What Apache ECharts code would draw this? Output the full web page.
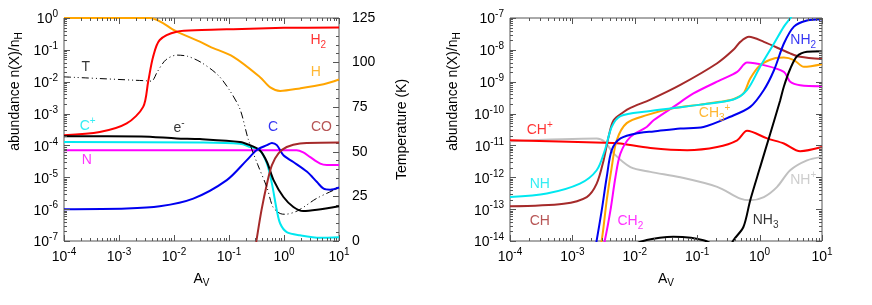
<!DOCTYPE html>
<html><head><meta charset="utf-8">
<script src="https://cdn.jsdelivr.net/npm/echarts@6/dist/echarts.min.js"></script>
<style>html,body{margin:0;padding:0;background:#fff}#c{width:872px;height:305px}</style>
</head><body><div id="c"></div><script>
// ---------- Left panel: abundances (A_V, n(X)/n_H) ----------
const avH2 = [1e-4, 4.47e-4, 1.38e-3, 2.75e-3, 3.39e-3, 4.17e-3, 5.5e-3, 1.12e-2, 3.16e-2, 0.12, 1, 10];
const abH2 = [2.09e-4, 2.63e-4, 4.9e-4, 1.62e-3, 1e-2, 6.03e-2, 0.204, 0.372, 0.417, 0.447, 0.49, 0.501];
const avH = [1e-4, 3.63e-3, 1.12e-2, 2.95e-2, 4.47e-2, 0.12, 0.363, 0.562, 0.851, 1.95, 5.25, 10];
const abH = [1, 1, 0.372, 0.182, 0.126, 0.0603, 0.0141, 6.61e-3, 5.13e-3, 6.17e-3, 8.32e-3, 1.17e-2];
const avCp = [1e-4, 3.16e-2, 0.158, 0.245, 0.363, 0.49, 0.603, 0.741, 0.851, 1.12, 1.95, 4.57, 10];
const abCp = [1.29e-4, 1.23e-4, 1.12e-4, 8.91e-5, 7.08e-5, 2.69e-5, 6.31e-6, 9.12e-7, 3.55e-7, 1.91e-7, 1.51e-7, 1.26e-7, 1.32e-7];
const avE = [1e-4, 2.51e-3, 1.12e-2, 2.95e-2, 0.158, 0.24, 0.363, 0.49, 0.646, 0.977, 1.48, 2.24, 3.98, 10];
const abE = [1.95e-4, 1.91e-4, 1.66e-4, 1.58e-4, 1.29e-4, 1.02e-4, 7.08e-5, 3.02e-5, 8.13e-6, 2.4e-6, 1.17e-6, 8.71e-7, 9.55e-7, 1.23e-6];
const avN = [1e-4, 1.7, 2.24, 2.95, 4.57, 6.03, 10];
const abN = [7.08e-5, 7.08e-5, 6.03e-5, 4.37e-5, 2.69e-5, 2.45e-5, 2.45e-5];
const avC = [1e-4, 1.38e-3, 5.5e-3, 2.24e-2, 9.12e-2, 0.209, 0.316, 0.49, 0.603, 0.741, 0.977, 1.48, 2.63, 3.98, 5.25, 6.92, 10];
const abC = [1e-6, 1.05e-6, 1.23e-6, 2.14e-6, 8.13e-6, 3.39e-5, 7.08e-5, 1.02e-4, 1.2e-4, 1.02e-4, 4.9e-5, 3.02e-5, 1.48e-5, 7.08e-6, 4.37e-6, 4.07e-6, 4.79e-6];
const avCO = [0.302, 0.316, 0.389, 0.49, 0.603, 0.794, 1.12, 1.95, 10];
const abCO = [6.31e-8, 1.05e-7, 9.12e-7, 6.31e-6, 2.4e-5, 5.62e-5, 8.91e-5, 1.15e-4, 1.23e-4];
// Temperature (K), right axis
const avT = [1e-4, 3.16e-3, 3.89e-3, 5.01e-3, 7.08e-3, 1.12e-2, 1.78e-2, 3.16e-2, 6.31e-2, 0.1, 0.158, 0.224, 0.331, 0.49, 0.631, 0.851, 1.05, 1.78, 3.98, 10];
const tempK = [92, 89.8, 89.6, 95, 101.5, 104.2, 103.5, 100, 93, 85, 74, 57, 43, 30, 19, 15.4, 15, 17, 24, 29.8];

// ---------- Right panel ----------
const avCHp = [1e-4, 4.57e-3, 5.89e-3, 1.78e-2, 6.92e-2, 0.209, 0.437, 0.631, 1.32, 2.45, 4.47, 10];
const abCHp = [1.45e-11, 1.2e-11, 1.15e-11, 8.32e-12, 7.08e-12, 8.91e-12, 1.45e-11, 2.88e-11, 1.66e-11, 1.15e-11, 6.61e-12, 8.91e-12];
const avNHp = [1e-4, 2.45e-3, 3.31e-3, 4.57e-3, 8.51e-3, 1.78e-2, 5.37e-2, 0.209, 0.49, 0.708, 1.17, 1.91, 3.09, 5.75, 10];
const abNHp = [1.35e-11, 1.66e-11, 1.29e-11, 5.62e-12, 2.09e-12, 1.48e-12, 1e-12, 5.01e-13, 2.14e-13, 1.91e-13, 2.4e-13, 5.01e-13, 1.66e-12, 3.39e-12, 4.37e-12];
const avNH = [1e-4, 3.89e-4, 1.32e-3, 2.45e-3, 3.31e-3, 4.27e-3, 5.89e-3, 1.55e-2, 5.37e-2, 0.112, 0.38, 0.631, 1.02, 1.7, 2.45, 3.09, 3.98];
const abNH = [2.4e-13, 3.09e-13, 6.31e-13, 1.66e-12, 7.08e-12, 3.8e-11, 8.32e-11, 1.17e-10, 1.58e-10, 1.91e-10, 2.75e-10, 5.5e-10, 2.95e-9, 1.58e-8, 5.37e-8, 9.77e-8, 2e-7];
const avCH = [1e-4, 7.24e-4, 1.7e-3, 2.45e-3, 3.16e-3, 3.8e-3, 4.57e-3, 6.61e-3, 8.51e-3, 1.78e-2, 5.37e-2, 0.209, 0.38, 0.49, 0.676, 1.17, 3.09, 4.47, 10];
const abCH = [1.23e-13, 1.48e-13, 2.4e-13, 6.31e-13, 3.39e-12, 1.86e-11, 6.17e-11, 1.12e-10, 1.51e-10, 2.75e-10, 7.94e-10, 3.8e-9, 1e-8, 1.78e-8, 2.57e-8, 1.78e-8, 7.76e-9, 6.03e-9, 5.13e-9];
const avCH3p = [2.51e-3, 2.95e-3, 3.55e-3, 4.27e-3, 5.13e-3, 7.41e-3, 1.55e-2, 3.72e-2, 0.112, 0.234, 0.38, 0.55, 0.708, 1.02, 1.7, 2.45, 3.55, 5.13, 10];
const abCH3p = [3.16e-15, 1.05e-14, 1.91e-13, 2.09e-12, 1.45e-11, 5.01e-11, 8.91e-11, 1.41e-10, 1.91e-10, 2.34e-10, 2.82e-10, 4.27e-10, 1.26e-9, 3.31e-9, 5.37e-9, 5.75e-9, 4.79e-9, 2.95e-9, 3.55e-9];
const avCH2 = [2.82e-3, 3.31e-3, 4.07e-3, 4.9e-3, 5.89e-3, 8.51e-3, 1.55e-2, 2e-2, 4.17e-2, 8.71e-2, 0.234, 0.437, 0.631, 1.17, 2.45, 3.09, 4.47, 10];
const abCH2 = [3.16e-15, 1.05e-14, 9.12e-14, 1.02e-12, 5.62e-12, 1.86e-11, 3.8e-11, 6.17e-11, 1.62e-10, 4.27e-10, 1.12e-9, 2.04e-9, 3.98e-9, 3.31e-9, 2.04e-9, 1e-9, 7.76e-10, 7.24e-10];
const avNH2 = [2.19e-3, 2.45e-3, 2.95e-3, 3.55e-3, 4.27e-3, 5.89e-3, 1.23e-2, 2e-2, 5.37e-2, 0.126, 0.339, 0.708, 1.17, 1.7, 2.45, 3.55, 5.75, 10];
const abNH2 = [3.16e-15, 1.05e-14, 9.12e-14, 1.02e-12, 7.08e-12, 1.66e-11, 2.51e-11, 2.75e-11, 3.39e-11, 3.8e-11, 7.94e-11, 1.62e-10, 5.5e-10, 2.29e-9, 1.58e-8, 5.37e-8, 8.32e-8, 9.12e-8];
const avNH3a = [1.12e-2, 1.55e-2, 2.51e-2, 4.17e-2, 7.94e-2, 0.126, 0.158];
const abNH3a = [8.91e-15, 1.07e-14, 1.26e-14, 1.35e-14, 1.26e-14, 1.05e-14, 8.91e-15];
const avNH3b = [0.316, 0.38, 0.55, 0.708, 1.02, 1.48, 2.14, 2.45, 3.09, 3.98, 5.75, 10];
const abNH3b = [5.01e-15, 1.05e-14, 2.75e-14, 1.91e-13, 2.09e-12, 2.34e-11, 2.63e-10, 7.08e-10, 2.51e-9, 6.31e-9, 8.71e-9, 9.12e-9];

// tick values
const xDecades = [1e-4, 1e-3, 1e-2, 1e-1, 1, 10];
const yDecadesL = [1e-7, 1e-6, 1e-5, 1e-4, 1e-3, 1e-2, 1e-1, 1];
const yDecadesR = [1e-14, 1e-13, 1e-12, 1e-11, 1e-10, 1e-9, 1e-8, 1e-7];

const FONT = 'Liberation Sans';
const COL = {red:'#ff0000', orange:'#ffa500', cyan:'#00e8f0', blue:'#0000f0', magenta:'#ff00ff', brown:'#a52a2a', black:'#000000', gray:'#c0c0c0'};

function zip(a, b) { return a.map((v, i) => [v, b[i]]); }
function line(name, xs, ys, color, xi, yi, extra) {
  return Object.assign({
    name, type: 'line', xAxisIndex: xi, yAxisIndex: yi, data: zip(xs, ys),
    showSymbol: false, symbol: 'none', smooth: 0.3, clip: true, silent: true,
    lineStyle: { color, width: 2 }, z: 3
  }, extra || {});
}
const richLbl = {
  b: { fontSize: 14, fontFamily: FONT, lineHeight: 20, verticalAlign: 'middle' },
  sub: { fontSize: 10, fontFamily: FONT, lineHeight: 10, verticalAlign: 'bottom' },
  sup: { fontSize: 10, fontFamily: FONT, lineHeight: 10, verticalAlign: 'top' }
};
function labelSeries(items, xi, yi) {
  return {
    type: 'scatter', xAxisIndex: xi, yAxisIndex: yi, symbolSize: 1, silent: true, z: 5,
    itemStyle: { color: 'rgba(0,0,0,0)' },
    data: items.map(it => ({ value: [it[1], it[2]], label: { color: it[3] }, name: it[0] })),
    label: { show: true, position: 'inside', formatter: p => p.name, rich: richLbl }
  };
}
// labels: [text, x, y, color]  (data coordinates)
const labelsL = [
  ['{b|H}{sub|2}', 4.2, 0.2, COL.red],
  ['{b|H}', 3.8, 0.02, COL.orange],
  ['{b|T}', 2.5e-4, 0.029, COL.black],
  ['{b|e}{sup|-}', 1.23e-2, 3.5e-4, COL.black],
  ['{b|C}{sup|+}', 2.7e-4, 4e-4, COL.cyan],
  ['{b|C}', 0.63, 3.7e-4, COL.blue],
  ['{b|CO}', 4.8, 3.7e-4, COL.brown],
  ['{b|N}', 2.6e-4, 3.4e-5, COL.magenta]
];
const labelsR = [
  ['{b|CH}{sup|+}', 3e-4, 3e-11, COL.red],
  ['{b|NH}', 3e-4, 6e-13, COL.cyan],
  ['{b|CH}', 3e-4, 4.2e-14, COL.brown],
  ['{b|CH}{sub|2}', 8.5e-3, 4.2e-14, COL.magenta],
  ['{b|CH}{sub|3}{sup|+}', 0.19, 1.02e-10, COL.orange],
  ['{b|NH}{sub|2}', 5.0, 2.0e-8, COL.blue],
  ['{b|NH}{sup|+}', 5.0, 8.1e-13, COL.gray],
  ['{b|NH}{sub|3}', 1.25, 4.5e-14, COL.black]
];

// tick marks drawn through the axes (log minor ticks 2..9)
function tickData(xDec, yDec, xmin, ymin) {
  const d = [];
  xDec.forEach((v, i) => { d.push([v, ymin, 0]); if (i < xDec.length - 1) for (let m = 2; m <= 9; m++) d.push([v * m, ymin, 1]); });
  yDec.forEach((v, i) => { d.push([xmin, v, 2]); if (i < yDec.length - 1) for (let m = 2; m <= 9; m++) d.push([xmin, v * m, 3]); });
  return d;
}
function tickSeries(xi, yi, data, mirrorY) {
  return {
    type: 'custom', xAxisIndex: xi, yAxisIndex: yi, data, clip: false, silent: true, z: 4,
    renderItem(params, api) {
      const cs = params.coordSys;
      const kind = api.value(2);
      const p = api.coord([api.value(0), api.value(1)]);
      const len = (kind === 0 || kind === 2) ? 6 : 3;
      const st = { stroke: '#555', lineWidth: 1 };
      const ch = [];
      if (kind < 2) {
        const x = Math.round(p[0]) + 0.5;
        ch.push({ type: 'line', shape: { x1: x, y1: cs.y + cs.height, x2: x, y2: cs.y + cs.height - len }, style: st });
        ch.push({ type: 'line', shape: { x1: x, y1: cs.y, x2: x, y2: cs.y + len }, style: st });
      } else {
        const y = Math.round(p[1]) + 0.5;
        ch.push({ type: 'line', shape: { x1: cs.x, y1: y, x2: cs.x + len, y2: y }, style: st });
        if (mirrorY) ch.push({ type: 'line', shape: { x1: cs.x + cs.width, y1: y, x2: cs.x + cs.width - len, y2: y }, style: st });
      }
      return { type: 'group', children: ch };
    }
  };
}

const supRich = {
  b: { fontSize: 14, fontFamily: FONT, color: '#000', lineHeight: 17, verticalAlign: 'bottom' },
  s: { fontSize: 10, fontFamily: FONT, color: '#000', lineHeight: 10, verticalAlign: 'top' }
};
const powFmt = v => '{b|10}{s|' + Math.round(Math.log10(v)) + '}';
const nameRich = {
  n: { fontSize: 14, fontFamily: FONT, color: '#000', lineHeight: 18, verticalAlign: 'middle' },
  sub: { fontSize: 10, fontFamily: FONT, color: '#000', lineHeight: 10, verticalAlign: 'bottom' }
};

function logX(gi) {
  return {
    type: 'log', logBase: 10, gridIndex: gi, min: 1e-4, max: 10, splitNumber: 5,
    axisLine: { show: false }, axisTick: { show: false }, splitLine: { show: false },
    axisLabel: { formatter: powFmt, rich: supRich, margin: 6, showMinLabel: true, showMaxLabel: true },
    name: '{n|A}{sub|V}', nameLocation: 'middle', nameGap: 29, nameTextStyle: { rich: nameRich }
  };
}
function logY(gi, min, max, n, gap) {
  return {
    type: 'log', logBase: 10, gridIndex: gi, min, max, splitNumber: n,
    axisLine: { show: false }, axisTick: { show: false }, splitLine: { show: false },
    axisLabel: { formatter: powFmt, rich: supRich, margin: 6, showMinLabel: true, showMaxLabel: true },
    name: '{n|abundance n(X)/n}{sub|H}', nameLocation: 'middle', nameRotate: 90, nameGap: gap,
    nameTextStyle: { rich: nameRich, padding: [0, 0, 0, 76] }
  };
}

const option = {
  animation: false,
  backgroundColor: '#fff',
  textStyle: { fontFamily: FONT },
  grid: [
    { left: 64, top: 18, width: 275, height: 223, show: true, borderColor: '#555', borderWidth: 1, backgroundColor: 'transparent' },
    { left: 510, top: 18, width: 312, height: 223, show: true, borderColor: '#555', borderWidth: 1, backgroundColor: 'transparent' }
  ],
  xAxis: [logX(0), logX(1)],
  yAxis: [
    logY(0, 1e-7, 1, 7, 40),
    {
      type: 'value', gridIndex: 0, position: 'right', min: 0, max: 125, interval: 25,
      axisLine: { show: false }, splitLine: { show: false },
      axisTick: { show: true, inside: true, length: 6, lineStyle: { color: '#555' } },
      minorTick: { show: true, splitNumber: 5, length: 3, lineStyle: { color: '#555' } },
      axisLabel: { fontSize: 14, color: '#000', fontFamily: FONT, margin: 13 },
      name: 'Temperature (K)', nameLocation: 'middle', nameRotate: 90, nameGap: 56,
      nameTextStyle: { fontSize: 14, color: '#000', fontFamily: FONT }
    },
    logY(1, 1e-14, 1e-7, 7, 48)
  ],
  series: [
    line('H', avH, abH, COL.orange, 0, 0),
    line('H2', avH2, abH2, COL.red, 0, 0),
    line('N', avN, abN, COL.magenta, 0, 0),
    line('C+', avCp, abCp, COL.cyan, 0, 0),
    line('e-', avE, abE, COL.black, 0, 0),
    line('C', avC, abC, COL.blue, 0, 0),
    line('CO', avCO, abCO, COL.brown, 0, 0),
    line('T', avT, tempK, COL.black, 0, 1, { lineStyle: { color: '#000', width: 1, type: [7, 3, 1, 3, 1, 3] } }),
    line('NH+', avNHp, abNHp, COL.gray, 1, 2),
    line('CH+', avCHp, abCHp, COL.red, 1, 2),
    line('CH', avCH, abCH, COL.brown, 1, 2),
    line('CH2', avCH2, abCH2, COL.magenta, 1, 2),
    line('CH3+', avCH3p, abCH3p, COL.orange, 1, 2),
    line('NH', avNH, abNH, COL.cyan, 1, 2),
    line('NH2', avNH2, abNH2, COL.blue, 1, 2),
    line('NH3a', avNH3a, abNH3a, COL.black, 1, 2),
    line('NH3b', avNH3b, abNH3b, COL.black, 1, 2),
    tickSeries(0, 0, tickData(xDecades, yDecadesL, 1e-4, 1e-7), false),
    tickSeries(1, 2, tickData(xDecades, yDecadesR, 1e-4, 1e-14), true),
    labelSeries(labelsL, 0, 0),
    labelSeries(labelsR, 1, 2)
  ]
};
const chart = echarts.init(document.getElementById('c'), null, { renderer: 'canvas' });
chart.setOption(option);
</script></body></html>
